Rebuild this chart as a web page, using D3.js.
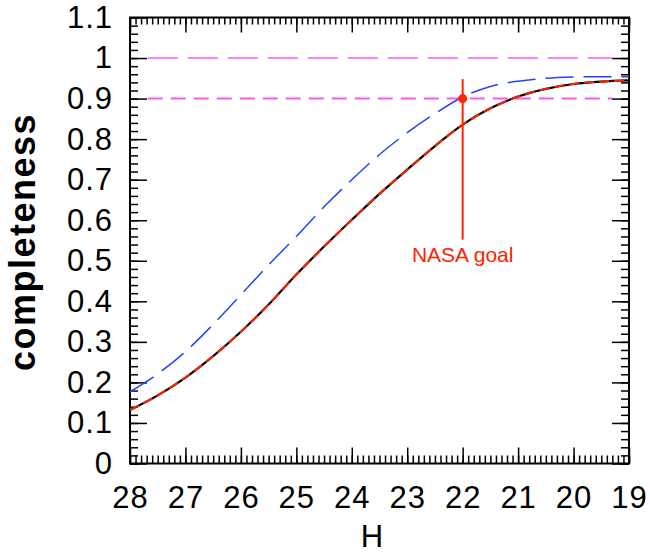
<!DOCTYPE html>
<html>
<head>
<meta charset="utf-8">
<style>
  body { margin: 0; background: #fff; }
  svg { display: block; }
  .tick text { font: 31px "Liberation Sans", Arial, sans-serif; letter-spacing: 1px; fill: #000; }
  .tick line { stroke: #000; stroke-width: 1.5; }
</style>
</head>
<body>
<svg width="650" height="554"></svg>
<script src="https://cdn.jsdelivr.net/npm/d3@7"></script>
<script>
// completeness vs H
var hValues   = [28, 27.5, 27, 26.5, 26, 25.5, 25, 24.5, 24, 23.5, 23, 22.5, 22, 21.5, 21, 20.5, 20, 19.5, 19];
var blackVals = [0.132, 0.168, 0.212, 0.265, 0.325, 0.392, 0.466, 0.535, 0.601, 0.665, 0.725, 0.783, 0.836, 0.876, 0.905, 0.924, 0.936, 0.942, 0.945];
var blueVals  = [0.177, 0.221, 0.276, 0.343, 0.416, 0.490, 0.560, 0.633, 0.700, 0.762, 0.816, 0.863, 0.904, 0.930, 0.943, 0.950, 0.953, 0.954, 0.954];
var xMajor = [28, 27, 26, 25, 24, 23, 22, 21, 20, 19];
var yMajor = [0, 0.1, 0.2, 0.3, 0.4, 0.5, 0.6, 0.7, 0.8, 0.9, 1, 1.1];
var refLevels = [1.0, 0.9];
var refSpan = [27.68, 19.3];
var goalH = 22, goalLevel = 0.9, goalSpan = [0.552, 0.948];
var goalLabel = "NASA goal";

var svg = d3.select("svg");
var x = d3.scaleLinear().domain([28, 19]).range([130, 629]);
var y = d3.scaleLinear().domain([0, 1.1]).range([463.5, 17.5]);

var xMinor = d3.range(190, 281).map(function(d) { return d / 10; });
var yMinor = d3.range(0, 56).map(function(d) { return d / 50; });

function addAxis(axis, tx, ty) {
  var g = svg.append("g")
    .attr("transform", "translate(" + tx + "," + ty + ")")
    .call(axis);
  g.select(".domain").remove();
  return g;
}
// minor ticks
addAxis(d3.axisBottom(x).tickValues(xMinor).tickSize(-8).tickFormat(""), 0, y(0));
addAxis(d3.axisTop(x).tickValues(xMinor).tickSize(-7).tickFormat(""), 0, y(1.1));
addAxis(d3.axisLeft(y).tickValues(yMinor).tickSize(-8).tickFormat(""), x(28), 0);
addAxis(d3.axisRight(y).tickValues(yMinor).tickSize(-8).tickFormat(""), x(19), 0);
// major ticks
addAxis(d3.axisBottom(x).tickValues(xMajor).tickSize(-16).tickPadding(22).tickFormat(d3.format("d")), 0, y(0));
addAxis(d3.axisTop(x).tickValues(xMajor).tickSize(-15).tickFormat(""), 0, y(1.1));
addAxis(d3.axisLeft(y).tickValues(yMajor).tickSize(-17).tickPadding(17)
  .tickFormat(function(d) { return d3.format("")(+d.toFixed(1)); }), x(28), 0);
addAxis(d3.axisRight(y).tickValues(yMajor).tickSize(-17).tickFormat(""), x(19), 0);

// frame
svg.append("rect")
  .attr("x", x(28)).attr("y", y(1.1))
  .attr("width", x(19) - x(28)).attr("height", y(0) - y(1.1))
  .attr("fill", "none").attr("stroke", "#000").attr("stroke-width", 2);

svg.append("clipPath").attr("id", "clip").append("rect")
  .attr("x", x(28)).attr("y", y(1.1))
  .attr("width", x(19) - x(28)).attr("height", y(0) - y(1.1));
var plot = svg.append("g").attr("clip-path", "url(#clip)");

// reference levels
plot.selectAll("line.ref").data(refLevels).enter().append("line")
  .attr("class", "ref")
  .attr("x1", x(refSpan[0])).attr("x2", x(refSpan[1]))
  .attr("y1", function(d) { return y(d); }).attr("y2", function(d) { return y(d); })
  .attr("stroke", function(d, i) { return i == 0 ? "#ff80ff" : "#ff55f0"; })
  .attr("stroke-width", 2)
  .attr("stroke-dasharray", function(d, i) { return i == 0 ? "30,10" : "15,8"; });

var line = d3.line().curve(d3.curveMonotoneX)
  .x(function(d) { return x(d[0]); })
  .y(function(d) { return y(d[1]); });

plot.append("path")
  .attr("d", line(d3.zip(hValues, blueVals)))
  .attr("fill", "none").attr("stroke", "#2244ff").attr("stroke-width", 1.5)
  .attr("stroke-dasharray", "28,10");

plot.append("path")
  .attr("d", line(d3.zip(hValues, blackVals)))
  .attr("fill", "none").attr("stroke", "#000").attr("stroke-width", 2.2);

plot.append("path")
  .attr("d", line(d3.zip(hValues, blackVals)))
  .attr("fill", "none").attr("stroke", "#ff2200").attr("stroke-width", 2)
  .attr("stroke-dasharray", "10,5");

// NASA goal
svg.append("line")
  .attr("x1", x(goalH)).attr("x2", x(goalH))
  .attr("y1", y(goalSpan[0])).attr("y2", y(goalSpan[1]))
  .attr("stroke", "#ff2200").attr("stroke-width", 2);
svg.append("circle")
  .attr("cx", x(goalH)).attr("cy", y(goalLevel)).attr("r", 4.5)
  .attr("fill", "#ff2200");
svg.append("text")
  .attr("x", x(goalH)).attr("y", y(goalSpan[0]) + 22)
  .attr("text-anchor", "middle")
  .attr("fill", "#ff2200")
  .style("font", "21px 'Liberation Sans', Arial, sans-serif")
  .text(goalLabel);

// axis titles
svg.append("text")
  .attr("x", 372).attr("y", 547)
  .attr("text-anchor", "middle")
  .style("font", "31px 'Liberation Sans', Arial, sans-serif")
  .text("H");
svg.append("text")
  .attr("transform", "translate(35,242) rotate(-90)")
  .attr("text-anchor", "middle")
  .style("font", "bold 36px 'Liberation Sans', Arial, sans-serif")
  .style("letter-spacing", "1.5px")
  .text("completeness");
</script>
</body>
</html>
